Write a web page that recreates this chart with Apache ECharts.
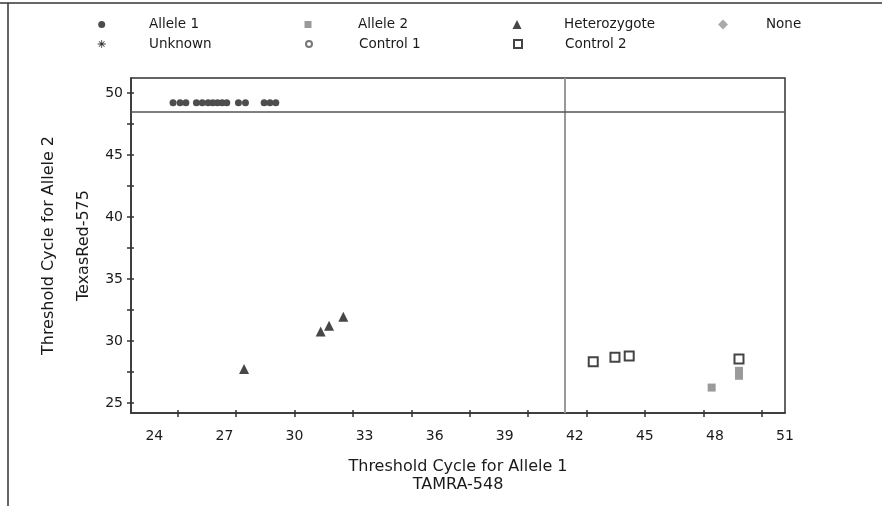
<html>
<head>
<meta charset="utf-8">
<title>Allele discrimination</title>
<script src="https://cdn.jsdelivr.net/npm/echarts@6/dist/echarts.min.js"></script>
</head>
<body style="margin:0">
<div id="chartmain" style="width:882px;height:506px;"></div>
<script type="text/javascript">
  // axis labels and tick marks (labels and ticks are not aligned in the original)
  let xLabels = [24, 27, 30, 33, 36, 39, 42, 45, 48, 51];
  let xTicks = [25, 27.5, 30, 32.5, 35, 37.5, 40, 42.5, 45, 47.5, 50];
  let yLabels = [25, 30, 35, 40, 45, 50];
  let yTicks = [25, 27.5, 30, 32.5, 35, 37.5, 40, 42.5, 45, 47.5, 50];

  // [TAMRA-548 Ct, TexasRed-575 Ct]
  let allele1 = [[24.8, 49.2], [25.1, 49.2], [25.35, 49.2], [25.8, 49.2], [26.05, 49.2], [26.3, 49.2],
    [26.5, 49.2], [26.7, 49.2], [26.9, 49.2], [27.1, 49.2], [27.6, 49.2], [27.9, 49.2],
    [28.7, 49.2], [28.95, 49.2], [29.2, 49.2]];
  let allele2 = [[47.86, 26.25], [49.03, 27.2], [49.03, 27.6]];
  let heterozygote = [[27.84, 27.75], [31.12, 30.76], [31.48, 31.24], [32.09, 31.96]];
  let none = [];
  let unknown = [];
  let control1 = [];
  let control2 = [[42.79, 28.34], [43.72, 28.7], [44.33, 28.8], [49.03, 28.56]];

  let thresholdX = 41.58;
  let thresholdY = 48.44;

  let font = 'DejaVu Sans';
  let txt = '#1a1a1a';
  let asterisk = 'path://M4.5,0h1v10h-1z M0,4.5h10v1h-10z M1.2,1.9l0.7,-0.7l7,7l-0.7,0.7z M8.1,1.2l0.7,0.7l-7,7l-0.7,-0.7z';

  let gridLeft = 131, gridRight = 97, gridTop = 78, gridBottom = 93;
  let gridW = 882 - gridLeft - gridRight;
  let gridH = 506 - gridTop - gridBottom;

  // one legend per item so the grid layout of the original can be kept
  function legendItem(name, icon, size, cx, cy, textX) {
    let left = cx - size / 2;
    return {
      data: [name],
      icon: icon,
      orient: 'vertical',
      left: left,
      top: cy - 8,
      padding: 0,
      itemWidth: size,
      itemHeight: size,
      selectedMode: false,
      textStyle: {
        fontFamily: font, fontSize: 13.5, color: txt, lineHeight: 16,
        padding: [0, 0, 0, textX - (left + size + 5)]
      }
    };
  }

  let option = {
    animation: false,
    backgroundColor: '#fff',
    legend: [
      legendItem('Allele 1', 'circle', 7, 101.7, 24.5, 149),
      legendItem('Unknown', asterisk, 8, 101.7, 44, 149),
      legendItem('Allele 2', 'rect', 7, 308, 24.5, 358),
      legendItem('Control 1', 'emptyCircle', 6, 308, 44, 358),
      legendItem('Heterozygote', 'triangle', 9, 517, 24.5, 564),
      legendItem('Control 2', 'emptyRect', 8, 517, 44, 564),
      legendItem('None', 'diamond', 10, 723, 24.5, 766)
    ],
    graphic: [
      { type: 'line', shape: { x1: 0, y1: 3, x2: 882, y2: 3 }, style: { stroke: '#333', lineWidth: 1.5 } },
      { type: 'line', shape: { x1: 8, y1: 3, x2: 8, y2: 506 }, style: { stroke: '#333', lineWidth: 1.5 } }
    ],
    grid: {
      left: gridLeft, right: gridRight, top: gridTop, bottom: gridBottom,
      show: true, borderColor: '#333', borderWidth: 1.5
    },
    xAxis: [{
      type: 'value',
      position: 'bottom',
      min: 23, max: 51,
      name: 'Threshold Cycle for Allele 1\nTAMRA-548',
      nameLocation: 'middle',
      nameGap: 45,
      nameMoveOverlap: false,
      nameTextStyle: { fontFamily: font, fontSize: 16, color: txt, lineHeight: 18 },
      splitLine: { show: false },
      axisLine: { lineStyle: { color: '#333', width: 1.5 } },
      axisTick: { length: 4, customValues: xTicks, lineStyle: { color: '#333', width: 1.5 } },
      axisLabel: { customValues: xLabels, margin: 16, fontFamily: font, fontSize: 14, color: txt }
    }, {
      // inner half of the crossing tick marks: a top axis moved down onto the bottom line
      type: 'value', position: 'top', offset: -gridH,
      min: 23, max: 51,
      splitLine: { show: false },
      axisLine: { show: false },
      axisTick: { show: true, length: 3, customValues: xTicks, lineStyle: { color: '#333', width: 1.5 } },
      axisLabel: { show: false }
    }],
    yAxis: [{
      type: 'value',
      position: 'left',
      min: 24.2, max: 51.2,
      name: 'Threshold Cycle for Allele 2\nTexasRed-575',
      nameLocation: 'middle',
      nameGap: 30,
      nameMoveOverlap: false,
      nameTextStyle: { fontFamily: font, fontSize: 16, color: txt, lineHeight: 35 },
      splitLine: { show: false },
      axisLine: { lineStyle: { color: '#333', width: 1.5 } },
      axisTick: { length: 4, customValues: yTicks, lineStyle: { color: '#333', width: 1.5 } },
      axisLabel: { customValues: yLabels, margin: 8, fontFamily: font, fontSize: 14, color: txt }
    }, {
      // inner half of the y ticks: a right axis moved onto the left line
      type: 'value', position: 'right', offset: -gridW,
      min: 24.2, max: 51.2,
      splitLine: { show: false },
      axisLine: { show: false },
      axisTick: { show: true, length: 3, customValues: yTicks, lineStyle: { color: '#333', width: 1.5 } },
      axisLabel: { show: false }
    }],
    series: [
      {
        name: 'Allele 1', type: 'scatter', symbol: 'circle', symbolSize: 7,
        itemStyle: { color: '#4d4d4d', opacity: 1 },
        data: allele1,
        markLine: {
          silent: true, symbol: 'none', label: { show: false },
          data: [
            { xAxis: thresholdX, lineStyle: { color: '#999', width: 2, type: 'solid' } },
            { yAxis: thresholdY, lineStyle: { color: '#555', width: 1.5, type: 'solid' } }
          ]
        }
      },
      {
        name: 'Allele 2', type: 'scatter', symbol: 'rect', symbolSize: 8,
        itemStyle: { color: '#9a9a9a', opacity: 1 },
        data: allele2
      },
      {
        name: 'Heterozygote', type: 'scatter', symbol: 'triangle', symbolSize: 10,
        itemStyle: { color: '#474747', opacity: 1 },
        data: heterozygote
      },
      {
        name: 'None', type: 'scatter', symbol: 'diamond', symbolSize: 10,
        itemStyle: { color: '#aaaaaa', opacity: 1 },
        data: none
      },
      {
        name: 'Unknown', type: 'scatter', symbol: asterisk, symbolSize: 8,
        itemStyle: { color: '#333', opacity: 1 },
        data: unknown
      },
      {
        name: 'Control 1', type: 'scatter', symbol: 'emptyCircle', symbolSize: 6,
        itemStyle: { color: '#777', borderColor: '#777', borderWidth: 1, opacity: 1 },
        data: control1
      },
      {
        name: 'Control 2', type: 'scatter', symbol: 'emptyRect', symbolSize: 9,
        itemStyle: { color: '#444', borderColor: '#444', borderWidth: 1.5, opacity: 1 },
        data: control2
      }
    ]
  };

  let myChart = echarts.init(document.getElementById('chartmain'));
  myChart.setOption(option);
</script>
</body>
</html>
